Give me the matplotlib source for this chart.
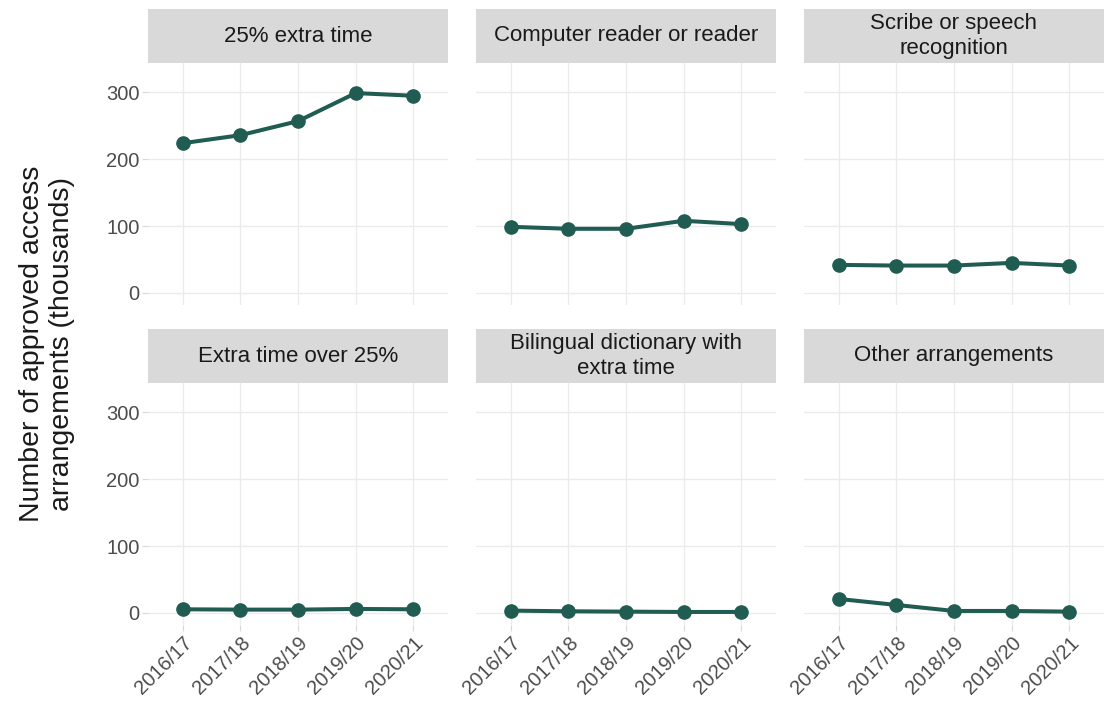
import matplotlib
matplotlib.use("Agg")
import matplotlib.pyplot as plt
from matplotlib.patches import Rectangle

plt.rcParams['font.family'] = ['Liberation Sans', 'DejaVu Sans']

years = ["2016/17", "2017/18", "2018/19", "2019/20", "2020/21"]
panel_titles = ["25% extra time", "Computer reader or reader", "Scribe or speech\nrecognition",
                "Extra time over 25%", "Bilingual dictionary with\nextra time", "Other arrangements"]
extra_time_25 = [224, 236, 257, 299, 295]
computer_reader = [99, 96, 96, 108, 103]
scribe_speech = [42, 41, 41, 45, 41]
extra_time_over_25 = [5.5, 5, 5, 6, 5.5]
bilingual_dictionary = [3.5, 2.5, 2, 1.5, 1.5]
other_arrangements = [21, 12, 3, 3, 2]
series = [extra_time_25, computer_reader, scribe_speech,
          extra_time_over_25, bilingual_dictionary, other_arrangements]
yticks = [0, 100, 200, 300]

W, H = 1111, 708
fig = plt.figure(figsize=(W / 100, H / 100), dpi=100)

col_x = [148, 476, 804]
panel_w = 300
row_y = [(63, 305), (383, 625)]  # top, bottom in pixels
strip_h = 54
line_color = "#215c53"

for i, (title, vals) in enumerate(zip(panel_titles, series)):
    r, c = divmod(i, 3)
    x0 = col_x[c]
    top, bot = row_y[r]
    ax = fig.add_axes([x0 / W, 1 - bot / H, panel_w / W, (bot - top) / H])
    ax.set_xlim(-0.6, 4.6)
    ax.set_ylim(-18, 344)
    ax.set_yticks(yticks)
    ax.set_xticks(range(len(years)))
    ax.grid(True, color="#ebebeb", lw=1.0)
    ax.set_axisbelow(True)
    for s in ax.spines.values():
        s.set_visible(False)
    ax.plot(range(len(years)), vals, color=line_color, lw=2.9, marker="o",
            markersize=9.5, zorder=3)
    ax.tick_params(axis="both", colors="#d9d9d9", length=4, width=0.8,
                   labelcolor="#4d4d4d", labelsize=14.5, pad=2)
    if c == 0:
        ax.set_yticklabels([str(v) for v in yticks])
    else:
        ax.set_yticklabels([])
        ax.tick_params(axis="y", length=0)
    if r == 1:
        ax.set_xticklabels(years, rotation=45, ha="right", va="top",
                           rotation_mode="anchor")
    else:
        ax.set_xticklabels([])
        ax.tick_params(axis="x", length=0)
    # strip directly above the panel
    sx = fig.add_axes([x0 / W, (H - top) / H, panel_w / W, strip_h / H])
    sx.set_xlim(0, 1)
    sx.set_ylim(0, 1)
    sx.axis("off")
    sx.add_patch(Rectangle((0, 0), 1, 1, facecolor="#d9d9d9", edgecolor="none"))
    sx.text(0.5, 0.5, title, ha="center", va="center", fontsize=16,
            color="#1a1a1a", linespacing=1.2)

fig.text(47 / W, 1 - 344 / H, "Number of approved access\narrangements (thousands)",
         rotation=90, ha="center", va="center", fontsize=20.5, color="#1a1a1a",
         linespacing=1.2)

fig.savefig("out.png", dpi=100, facecolor="white")
